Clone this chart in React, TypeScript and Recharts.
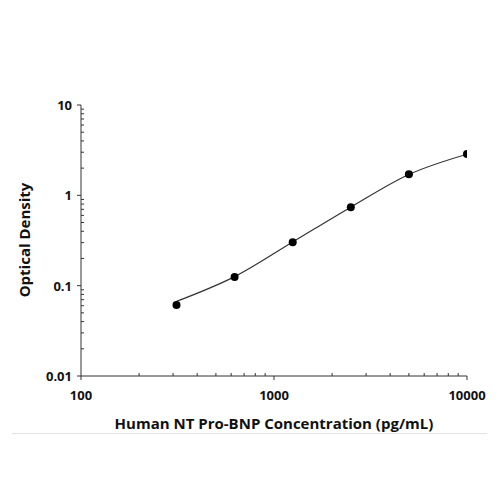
import { ComposedChart, Line, XAxis, YAxis, Label } from "recharts";

// standard concentrations (pg/mL) and measured OD
const concentration = [312.5, 625, 1250, 2500, 5000, 10000];
const opticalDensity = [0.061, 0.125, 0.302, 0.74, 1.71, 2.87];
// fitted curve at the same concentrations
const fittedDensity = [0.067, 0.126, 0.305, 0.74, 1.7, 2.85];

const xTicks = [100, 200, 300, 400, 500, 600, 700, 800, 900, 1000, 2000, 3000, 4000, 5000, 6000, 7000, 8000, 9000, 10000];
const yTicks = [
  0.01, 0.02, 0.03, 0.04, 0.05, 0.06, 0.07, 0.08, 0.09,
  0.1, 0.2, 0.3, 0.4, 0.5, 0.6, 0.7, 0.8, 0.9,
  1, 2, 3, 4, 5, 6, 7, 8, 9, 10,
];

const data = concentration.map((c, i) => ({
  conc: c,
  od: opticalDensity[i],
  fit: fittedDensity[i],
}));

const FONT = "'Open Sans', sans-serif";
const AXIS = "#333";

const isMajor = (v: number) => {
  const l = Math.log10(v);
  return Math.abs(l - Math.round(l)) < 1e-6;
};

const XTick = ({ x, y, payload }: any) => {
  const major = isMajor(payload.value);
  return (
    <g>
      <line x1={x} x2={x} y1={y} y2={major ? y + 4 : y - 3} stroke={AXIS} strokeWidth={1} />
      {major && (
        <text x={x} y={y + 24} textAnchor="middle" fontFamily={FONT} fontWeight={700} fontSize={13} fill="#111">
          {payload.value}
        </text>
      )}
    </g>
  );
};

const YTick = ({ x, y, payload }: any) => {
  const major = isMajor(payload.value);
  return (
    <g>
      <line x1={major ? x - 4 : x} x2={major ? x : x + 3} y1={y} y2={y} stroke={AXIS} strokeWidth={1} />
      {major && (
        <text x={x - 9} y={y + 5} textAnchor="end" fontFamily={FONT} fontWeight={700} fontSize={13} fill="#111">
          {payload.value}
        </text>
      )}
    </g>
  );
};

export default function App() {
  return (
    <div style={{ position: "absolute", left: 0, top: 0, width: 500, height: 500, background: "#fff" }}>
      <ComposedChart width={500} height={500} data={data} margin={{ top: 105, right: 33, left: 0, bottom: 0 }}>
        <XAxis
          dataKey="conc"
          type="number"
          scale="log"
          domain={[100, 10000]}
          ticks={xTicks}
          interval={0}
          tick={<XTick />}
          tickLine={false}
          tickSize={0}
          tickMargin={0}
          height={124}
          stroke={AXIS}
          allowDataOverflow
        >
          <Label
            content={() => (
              <text x={274} y={429} textAnchor="middle" fontFamily={FONT} fontWeight={700} fontSize={15} fill="#111">
                Human NT Pro-BNP Concentration (pg/mL)
              </text>
            )}
          />
        </XAxis>
        <YAxis
          type="number"
          scale="log"
          domain={[0.01, 10]}
          ticks={yTicks}
          interval={0}
          tick={<YTick />}
          tickLine={false}
          tickSize={0}
          tickMargin={0}
          width={81}
          stroke={AXIS}
          allowDataOverflow
        >
          <Label
            content={() => (
              <text
                x={30}
                y={240}
                transform="rotate(-90, 30, 240)"
                textAnchor="middle"
                fontFamily={FONT}
                fontWeight={700}
                fontSize={15}
                fill="#111"
              >
                Optical Density
              </text>
            )}
          />
        </YAxis>
        <Line dataKey="fit" type="monotone" stroke="#333" strokeWidth={1.2} dot={false} isAnimationActive={false} />
        <Line
          dataKey="od"
          stroke="none"
          dot={{ r: 4, fill: "#000", stroke: "none" }}
          activeDot={false}
          isAnimationActive={false}
        />
      </ComposedChart>
      <div style={{ position: "absolute", left: 12, top: 433, width: 475, height: 1, background: "#e2e2e2" }} />
    </div>
  );
}
